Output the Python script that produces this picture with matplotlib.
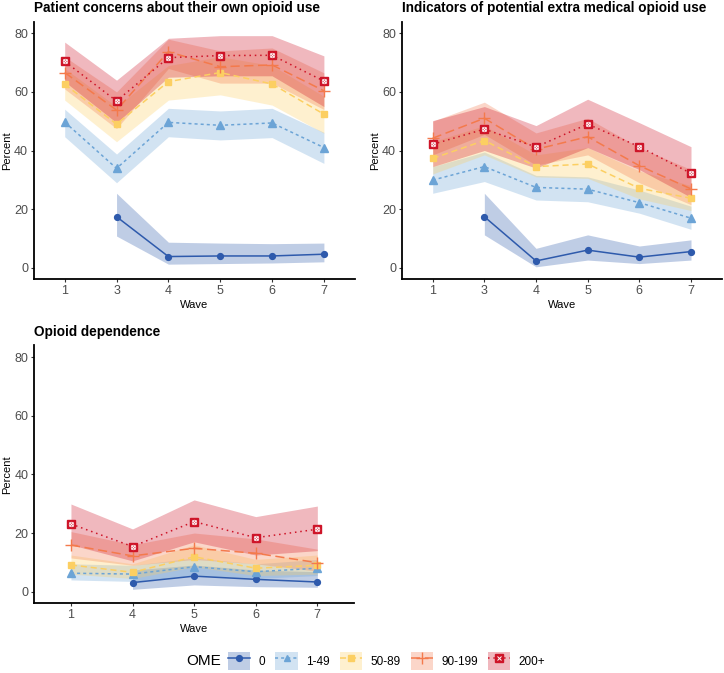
import matplotlib
matplotlib.use("Agg")
import matplotlib.pyplot as plt
import numpy as np
from matplotlib.patches import Patch
from matplotlib.lines import Line2D

plt.rcParams['font.family'] = ['Liberation Sans', 'DejaVu Sans']

nan = np.nan
groups = ['0', '1-49', '50-89', '90-199', '200+']
colors = ['#2E5AAC', '#6CA4D6', '#FCCF62', '#F47A4C', '#CE1428']
styles = ['-', (0, (2, 2)), (0, (4, 2.5)), (0, (6, 3)), (0, (1, 2.5))]

# panel 1: Patient concerns about their own opioid use
waves_top = ['1', '3', '4', '5', '6', '7']
concern_est = [
    [nan, 17.4, 3.8, 4.0, 4.0, 4.6],
    [49.7, 33.9, 49.6, 48.6, 49.4, 41.0],
    [62.6, 49.0, 63.5, 66.6, 62.7, 52.4],
    [66.6, 53.8, 73.7, 68.6, 69.2, 60.4],
    [70.4, 56.9, 71.7, 72.4, 72.5, 63.7],
]
concern_lo = [
    [nan, 10.8, 1.2, 1.4, 1.6, 2.0],
    [44.7, 29.0, 44.7, 43.6, 44.4, 35.6],
    [57.2, 43.0, 57.2, 59.0, 55.5, 45.9],
    [61.0, 47.5, 68.0, 63.0, 63.0, 54.0],
    [63.5, 49.5, 65.0, 65.5, 65.5, 55.0],
]
concern_hi = [
    [nan, 25.4, 8.7, 8.4, 8.2, 8.4],
    [54.1, 38.8, 54.4, 53.5, 54.4, 46.2],
    [68.0, 55.0, 69.0, 72.0, 69.0, 58.5],
    [72.0, 60.0, 78.0, 74.0, 75.0, 66.5],
    [77.0, 64.0, 78.3, 79.2, 79.2, 72.3],
]

# panel 2: Indicators of potential extra medical opioid use
extra_est = [
    [nan, 17.4, 2.3, 6.0, 3.6, 5.5],
    [29.9, 34.5, 27.4, 26.8, 22.2, 16.9],
    [37.3, 43.4, 34.5, 35.4, 27.1, 23.7],
    [44.2, 51.0, 40.4, 44.7, 34.8, 26.9],
    [42.1, 47.3, 41.2, 49.0, 41.3, 32.2],
]
extra_lo = [
    [nan, 11.2, 0.3, 2.6, 1.4, 2.6],
    [25.4, 29.4, 23.1, 22.5, 18.6, 13.1],
    [32.0, 38.5, 31.0, 30.5, 23.5, 19.5],
    [38.5, 45.5, 35.0, 38.5, 29.0, 21.5],
    [34.5, 40.0, 34.0, 41.0, 33.5, 24.0],
]
extra_hi = [
    [nan, 25.4, 6.6, 11.2, 7.4, 9.5],
    [34.5, 39.5, 31.5, 31.0, 26.5, 21.0],
    [43.0, 48.5, 38.5, 41.0, 33.0, 28.0],
    [50.0, 56.5, 46.0, 51.0, 41.0, 33.5],
    [50.2, 55.0, 48.5, 57.5, 49.5, 41.3],
]

# panel 3: Opioid dependence
waves_dep = ['1', '4', '5', '6', '7']
dep_est = [
    [nan, 3.1, 5.3, 4.2, 3.3],
    [6.3, 6.0, 8.5, 6.8, 8.0],
    [9.1, 6.6, 11.9, 8.0, 9.0],
    [15.9, 12.2, 14.8, 13.1, 9.9],
    [23.1, 15.4, 23.9, 18.4, 21.3],
]
dep_lo = [
    [nan, 0.8, 2.3, 1.7, 1.5],
    [4.0, 3.5, 5.5, 4.5, 5.5],
    [6.0, 4.5, 8.5, 5.5, 6.0],
    [11.5, 9.0, 11.0, 9.5, 7.0],
    [16.0, 10.5, 17.0, 12.5, 14.0],
]
dep_hi = [
    [nan, 7.4, 9.1, 7.4, 6.8],
    [9.5, 9.0, 11.5, 9.5, 11.0],
    [12.5, 9.5, 16.0, 11.0, 12.5],
    [20.5, 16.0, 20.0, 18.0, 14.5],
    [29.9, 21.4, 31.3, 25.6, 29.2],
]

W, H = 724, 673
fig = plt.figure(figsize=(W / 100, H / 100), dpi=100)


def add_ax(left, right, top, bottom):
    return fig.add_axes([left / W, 1 - bottom / H, (right - left) / W, (bottom - top) / H])


def draw_marker(ax, x, y, i, zorder=4):
    c = colors[i]
    if i == 0:
        ax.plot(x, y, 'o', color=c, ms=4.2, zorder=zorder)
    elif i == 1:
        ax.plot(x, y, '^', color=c, ms=5.5, zorder=zorder)
    elif i == 2:
        ax.plot(x, y, 's', color=c, ms=4.6, zorder=zorder)
    elif i == 3:
        ax.plot(x, y, '+', color=c, ms=8, mew=1.0, zorder=zorder)
    else:
        ax.plot(x, y, 's', color=c, ms=5.8, zorder=zorder)
        ax.plot(x, y, 'x', color='white', ms=2.8, mew=0.7, zorder=zorder + 1)
        ax.plot(x, y, 'o', mfc='none', mec='white', ms=3.3, mew=0.5, zorder=zorder + 1)


def panel(ax, title, waves, est, lo, hi):
    x = np.arange(1, len(waves) + 1)
    for i in range(len(groups)):
        ax.fill_between(x, lo[i], hi[i], color=colors[i], alpha=0.3, lw=0, zorder=1)
    for i in range(len(groups)):
        ax.plot(x, est[i], color=colors[i], ls=styles[i], lw=1.1, zorder=3)
        draw_marker(ax, x, est[i], i)
    ax.set_xlim(0.4, len(waves) + 0.6)
    ax.set_ylim(-4, 84)
    ax.set_xticks(x)
    ax.set_xticklabels(waves)
    ax.set_yticks([0, 20, 40, 60, 80])
    for s in ['top', 'right']:
        ax.spines[s].set_visible(False)
    for s in ['left', 'bottom']:
        ax.spines[s].set_linewidth(1.3)
    ax.tick_params(length=2.5, width=0.8, colors='#333333', labelcolor='#4D4D4D', labelsize=9, pad=1.5)
    ax.set_xlabel('Wave', fontsize=8, labelpad=2)
    ax.set_ylabel('Percent', fontsize=8, labelpad=1.5)
    ax.set_title(title, loc='left', fontsize=9.8, fontweight='bold', pad=7)


ax1 = add_ax(33.6, 355, 21.6, 279.4)
panel(ax1, 'Patient concerns about their own opioid use', waves_top, concern_est, concern_lo, concern_hi)
ax2 = add_ax(401.7, 722, 21.6, 279.4)
panel(ax2, 'Indicators of potential extra medical opioid use', waves_top, extra_est, extra_lo, extra_hi)
ax3 = add_ax(34, 354.3, 345.4, 603.4)
panel(ax3, 'Opioid dependence', waves_dep, dep_est, dep_lo, dep_hi)

# legend
mk = [dict(marker='o', ms=4.2), dict(marker='^', ms=5), dict(marker='s', ms=4.4),
      dict(marker='+', ms=8, mew=1.0), dict(marker='s', ms=5.5)]
handles = []
for i in range(len(groups)):
    patch = Patch(facecolor=colors[i], alpha=0.3, lw=0)
    line = Line2D([], [], color=colors[i], ls=styles[i], lw=1.1, **mk[i])
    if i == 4:
        cross = Line2D([], [], color='white', marker='x', ms=2.8, mew=0.7, ls='none')
        handles.append((patch, line, cross))
    else:
        handles.append((patch, line))
fig.legend(handles, groups, loc='center left', bbox_to_anchor=(228 / W, 1 - 661 / H),
           ncol=5, frameon=False, fontsize=8.5, handlelength=1.9, handleheight=2.0,
           handletextpad=0.7, columnspacing=0.85, borderpad=0, borderaxespad=0)
fig.text(186 / W, 1 - 661 / H, 'OME', fontsize=11, va='center', ha='left')

fig.savefig('out.png', dpi=100)
